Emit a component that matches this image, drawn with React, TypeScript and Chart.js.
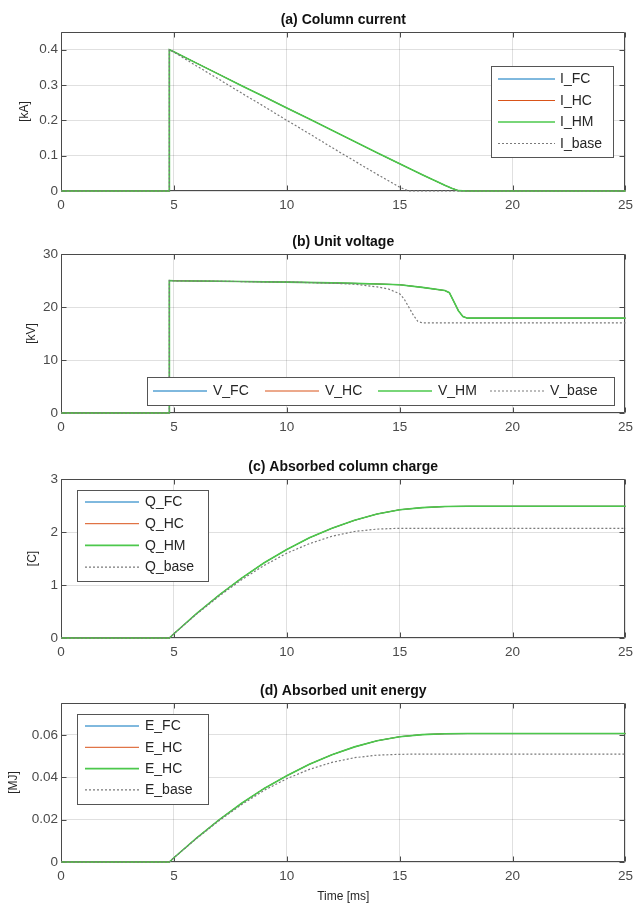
import React, { useEffect, useRef } from "react";
import { Chart, registerables } from "chart.js";
Chart.register(...registerables);

const FONT = "'Liberation Sans', Arial, Helvetica, sans-serif";

// ---------- shared axis ----------
const xTicks = [0, 5, 10, 15, 20, 25];

// ---------- (a) Column current [kA] ----------
const labelsA = ["I_FC", "I_HC", "I_HM", "I_base"];
const yTicksA = [0, 0.1, 0.2, 0.3, 0.4];
const tI = [0, 4.8, 4.8, 5, 6, 7, 8, 9, 10, 11, 12, 13, 14, 15, 16, 16.5, 17, 17.3, 17.6, 18, 25];
const I_FC = [0, 0, 0.4, 0.394, 0.362, 0.33, 0.298, 0.267, 0.235, 0.204, 0.172, 0.14, 0.108, 0.077, 0.046, 0.031, 0.016, 0.008, 0.001, 0, 0];
const I_HC = [0, 0, 0.4, 0.394, 0.362, 0.33, 0.298, 0.267, 0.235, 0.204, 0.172, 0.14, 0.108, 0.077, 0.046, 0.031, 0.016, 0.008, 0.001, 0, 0];
const I_HM = [0, 0, 0.4, 0.394, 0.362, 0.33, 0.298, 0.267, 0.235, 0.204, 0.172, 0.14, 0.108, 0.077, 0.046, 0.031, 0.016, 0.008, 0.001, 0, 0];
const tIb = [0, 4.8, 4.8, 5, 6, 7, 8, 9, 10, 11, 12, 13, 14, 14.5, 15, 15.4, 25];
const I_base = [0, 0, 0.4, 0.393, 0.354, 0.316, 0.277, 0.239, 0.2, 0.162, 0.123, 0.085, 0.047, 0.029, 0.011, 0, 0];

// ---------- (b) Unit voltage [kV] ----------
const labelsB = ["V_FC", "V_HC", "V_HM", "V_base"];
const yTicksB = [0, 10, 20, 30];
const tV = [0, 4.8, 4.8, 5, 6, 8, 10, 12, 13, 14, 15, 16, 17, 17.2, 17.4, 17.6, 17.8, 18, 25];
const V_FC = [0, 0, 25, 24.95, 24.9, 24.8, 24.7, 24.55, 24.45, 24.35, 24.2, 23.7, 23.1, 22.7, 21.0, 19.3, 18.2, 17.9, 17.9];
const V_HC = [0, 0, 25, 24.95, 24.9, 24.8, 24.7, 24.55, 24.45, 24.35, 24.2, 23.7, 23.1, 22.7, 21.0, 19.3, 18.2, 17.9, 17.9];
const V_HM = [0, 0, 25, 24.95, 24.9, 24.8, 24.7, 24.55, 24.45, 24.35, 24.2, 23.7, 23.1, 22.7, 21.0, 19.3, 18.2, 17.9, 17.9];
const tVb = [0, 4.8, 4.8, 5, 6, 8, 10, 12, 13, 14, 14.5, 15, 15.2, 15.4, 15.6, 15.8, 16, 25];
const V_base = [0, 0, 25, 24.95, 24.9, 24.8, 24.7, 24.5, 24.3, 23.8, 23.4, 22.5, 21.5, 20.0, 18.5, 17.3, 17.0, 17.0];

// ---------- (c) Absorbed column charge [C] ----------
const labelsC = ["Q_FC", "Q_HC", "Q_HM", "Q_base"];
const yTicksC = [0, 1, 2, 3];
const tQ = [0, 4.8, 5, 6, 7, 8, 9, 10, 11, 12, 13, 14, 15, 16, 17, 18, 25];
const Q_FC = [0, 0, 0.08, 0.46, 0.81, 1.13, 1.42, 1.67, 1.89, 2.07, 2.22, 2.34, 2.42, 2.46, 2.48, 2.485, 2.485];
const Q_HC = [0, 0, 0.08, 0.46, 0.81, 1.13, 1.42, 1.67, 1.89, 2.07, 2.22, 2.34, 2.42, 2.46, 2.48, 2.485, 2.485];
const Q_HM = [0, 0, 0.08, 0.46, 0.81, 1.13, 1.42, 1.67, 1.89, 2.07, 2.22, 2.34, 2.42, 2.46, 2.48, 2.485, 2.485];
const Q_base = [0, 0, 0.08, 0.45, 0.79, 1.1, 1.37, 1.6, 1.78, 1.92, 2.01, 2.055, 2.07, 2.07, 2.07, 2.07, 2.07];

// ---------- (d) Absorbed unit energy [MJ] ----------
const labelsD = ["E_FC", "E_HC", "E_HC", "E_base"];
const yTicksD = [0, 0.02, 0.04, 0.06];
const tE = [0, 4.8, 5, 6, 7, 8, 9, 10, 11, 12, 13, 14, 15, 16, 17, 18, 25];
const E_FC = [0, 0, 0.002, 0.0113, 0.0199, 0.0277, 0.0347, 0.0407, 0.0461, 0.0506, 0.0543, 0.0572, 0.0591, 0.0601, 0.0605, 0.0606, 0.0606];
const E_HC = [0, 0, 0.002, 0.0113, 0.0199, 0.0277, 0.0347, 0.0407, 0.0461, 0.0506, 0.0543, 0.0572, 0.0591, 0.0601, 0.0605, 0.0606, 0.0606];
const E_HM = [0, 0, 0.002, 0.0113, 0.0199, 0.0277, 0.0347, 0.0407, 0.0461, 0.0506, 0.0543, 0.0572, 0.0591, 0.0601, 0.0605, 0.0606, 0.0606];
const E_base = [0, 0, 0.002, 0.0111, 0.0195, 0.0271, 0.0338, 0.0393, 0.0437, 0.047, 0.0492, 0.0504, 0.0508, 0.0509, 0.0509, 0.0509, 0.0509];

// ---------- styles ----------
const COLORS = ["#0072BD", "#D95319", "#4CC84C", "#7a7a7a"];
const WIDTHS = [1, 1, 1.6, 1.2];
const DASHES: number[][] = [[], [], [], [2, 2]];
const ORDERS = [3, 2, 1, 0];

const vertItems = (x: number, y0: number, gap: number) =>
  [0, 1, 2, 3].map((i) => ({ x, y: y0 + i * gap }));

const panels = [
  {
    title: "(a) Column current", yLabel: "[kA]", yLabelX: 25, yMax: 0.45, yTicks: yTicksA,
    labels: labelsA, times: [tI, tI, tI, tIb], values: [I_FC, I_HC, I_HM, I_base],
    canvasTop: 0, height: 225, xh: 34, xTitle: "",
    legend: { box: { x: 430, y: 34, w: 122, h: 91 }, items: vertItems(7, 13, 21.5), lineLen: 57, gap: 5 },
  },
  {
    title: "(b) Unit voltage", yLabel: "[kV]", yLabelX: 32, yMax: 30, yTicks: yTicksB,
    labels: labelsB, times: [tV, tV, tV, tVb], values: [V_FC, V_HC, V_HM, V_base],
    canvasTop: 222, height: 225, xh: 34, xTitle: "",
    legend: { box: { x: 86, y: 123, w: 467, h: 28 }, items: [6, 118, 231, 343].map((x) => ({ x, y: 14 })), lineLen: 54, gap: 6 },
  },
  {
    title: "(c) Absorbed column charge", yLabel: "[C]", yLabelX: 33, yMax: 3, yTicks: yTicksC,
    labels: labelsC, times: [tQ, tQ, tQ, tQ], values: [Q_FC, Q_HC, Q_HM, Q_base],
    canvasTop: 447, height: 225, xh: 34, xTitle: "",
    legend: { box: { x: 16, y: 11, w: 131, h: 91 }, items: vertItems(8, 12, 21.7), lineLen: 54, gap: 6 },
  },
  {
    title: "(d) Absorbed unit energy", yLabel: "[MJ]", yLabelX: 14, yMax: 0.075, yTicks: yTicksD,
    labels: labelsD, times: [tE, tE, tE, tE], values: [E_FC, E_HC, E_HM, E_base],
    canvasTop: 671, height: 233, xh: 42, xTitle: "Time [ms]",
    legend: { box: { x: 16, y: 11, w: 131, h: 90 }, items: vertItems(8, 12, 21.3), lineLen: 54, gap: 6 },
  },
];

const framePlugin = {
  id: "frame",
  beforeDatasetsDraw(chart: any) {
    const { ctx, chartArea: a, scales } = chart;
    const L = Math.round(a.left) + 0.5, R = Math.round(a.right) - 0.5;
    const T = Math.round(a.top) + 0.5, B = Math.round(a.bottom) - 0.5;
    ctx.save();
    ctx.strokeStyle = "#4a4a4a";
    ctx.lineWidth = 1;
    ctx.beginPath();
    ctx.rect(L, T, R - L, B - T);
    const tl = 5;
    scales.x.ticks.forEach((t: any) => {
      const px = Math.round(scales.x.getPixelForValue(t.value)) + 0.5;
      ctx.moveTo(px, B); ctx.lineTo(px, B - tl);
      ctx.moveTo(px, T); ctx.lineTo(px, T + tl);
    });
    scales.y.ticks.forEach((t: any) => {
      const py = Math.round(scales.y.getPixelForValue(t.value)) + 0.5;
      ctx.moveTo(L, py); ctx.lineTo(L + tl, py);
      ctx.moveTo(R, py); ctx.lineTo(R - tl, py);
    });
    ctx.stroke();
    ctx.restore();
  },
};

const boxLegend = {
  id: "boxLegend",
  afterDraw(chart: any, _args: any, opts: any) {
    if (!opts || !opts.box) return;
    const { ctx, chartArea: a } = chart;
    const b = opts.box;
    const x0 = Math.round(a.left + b.x), y0 = Math.round(a.top + b.y);
    ctx.save();
    ctx.fillStyle = "#ffffff";
    ctx.fillRect(x0, y0, b.w, b.h);
    ctx.strokeStyle = "#555555";
    ctx.lineWidth = 1;
    ctx.strokeRect(x0 + 0.5, y0 + 0.5, b.w, b.h);
    ctx.font = `14px ${FONT}`;
    ctx.textBaseline = "middle";
    chart.data.datasets.forEach((ds: any, i: number) => {
      const it = opts.items[i];
      const lx = x0 + it.x, ly = y0 + it.y;
      ctx.save();
      ctx.strokeStyle = ds.borderColor;
      ctx.lineWidth = ds.borderWidth;
      ctx.setLineDash(ds.borderDash || []);
      ctx.beginPath();
      ctx.moveTo(lx, ly);
      ctx.lineTo(lx + opts.lineLen, ly);
      ctx.stroke();
      ctx.restore();
      ctx.fillStyle = "#262626";
      ctx.fillText(ds.label, lx + opts.lineLen + opts.gap, ly + 0.5);
    });
    ctx.restore();
  },
};

function Panel({ p }: { p: (typeof panels)[number] }) {
  const ref = useRef<HTMLCanvasElement | null>(null);
  useEffect(() => {
    if (!ref.current) return;
    const datasets = p.labels.map((label, i) => ({
      label,
      data: p.times[i].map((t, k) => ({ x: t, y: p.values[i][k] })),
      borderColor: COLORS[i],
      backgroundColor: COLORS[i],
      borderWidth: WIDTHS[i],
      borderDash: DASHES[i],
      pointRadius: 0,
      tension: 0,
      fill: false,
      clip: 3,
      order: ORDERS[i],
    }));
    const titleFont = 14;
    const titleLH = titleFont * 1.2;
    const padTop = 20 - titleLH / 2;
    const chart = new Chart(ref.current, {
      type: "line",
      data: { datasets },
      plugins: [framePlugin, boxLegend],
      options: {
        animation: false,
        responsive: false,
        devicePixelRatio: 1,
        layout: { padding: { left: 0, right: 10, top: 0, bottom: 0 } },
        plugins: {
          legend: { display: false },
          tooltip: { enabled: false },
          title: {
            display: true,
            text: p.title,
            fullSize: false,
            color: "#111111",
            font: { family: FONT, size: titleFont, weight: "bold", lineHeight: 1.2 },
            padding: { top: padTop, bottom: 32 - padTop - titleLH },
          },
          boxLegend: p.legend,
        } as any,
        scales: {
          x: {
            type: "linear",
            min: 0,
            max: 25,
            afterBuildTicks: (s: any) => { s.ticks = xTicks.map((v) => ({ value: v })); },
            afterFit: (s: any) => { s.height = p.xh; },
            grid: { color: "rgba(0,0,0,0.12)", drawTicks: false, lineWidth: 1 },
            border: { display: false },
            ticks: {
              autoSkip: false, maxRotation: 0, padding: 6, color: "#4a4a4a",
              font: { family: FONT, size: 13.5 },
              callback: (v: any) => String(v),
            },
            title: {
              display: !!p.xTitle, text: p.xTitle, color: "#262626",
              font: { family: FONT, size: 12 }, padding: { top: 0, bottom: 0 },
            },
          },
          y: {
            type: "linear",
            min: 0,
            max: p.yMax,
            afterBuildTicks: (s: any) => { s.ticks = p.yTicks.map((v) => ({ value: v })); },
            afterFit: (s: any) => { s.width = 61; },
            grid: { color: "rgba(0,0,0,0.12)", drawTicks: false, lineWidth: 1 },
            border: { display: false },
            ticks: {
              padding: 3, color: "#4a4a4a",
              font: { family: FONT, size: 13.5 },
              callback: (v: any) => String(v),
            },
            title: {
              display: true, text: p.yLabel, color: "#262626",
              font: { family: FONT, size: 12, lineHeight: 1.2 },
              padding: { top: p.yLabelX - 7.2, bottom: 0 },
            },
          },
        },
      } as any,
    });
    return () => chart.destroy();
  }, [p]);
  return (
    <canvas
      ref={ref}
      width={639}
      height={p.height}
      style={{ position: "absolute", left: 0, top: p.canvasTop, width: 639, height: p.height, display: "block" }}
    />
  );
}

export default function App() {
  return (
    <div style={{ position: "absolute", left: 0, top: 0, width: 639, height: 904, background: "#ffffff", overflow: "hidden" }}>
      {panels.map((p, i) => (
        <Panel key={i} p={p} />
      ))}
    </div>
  );
}
